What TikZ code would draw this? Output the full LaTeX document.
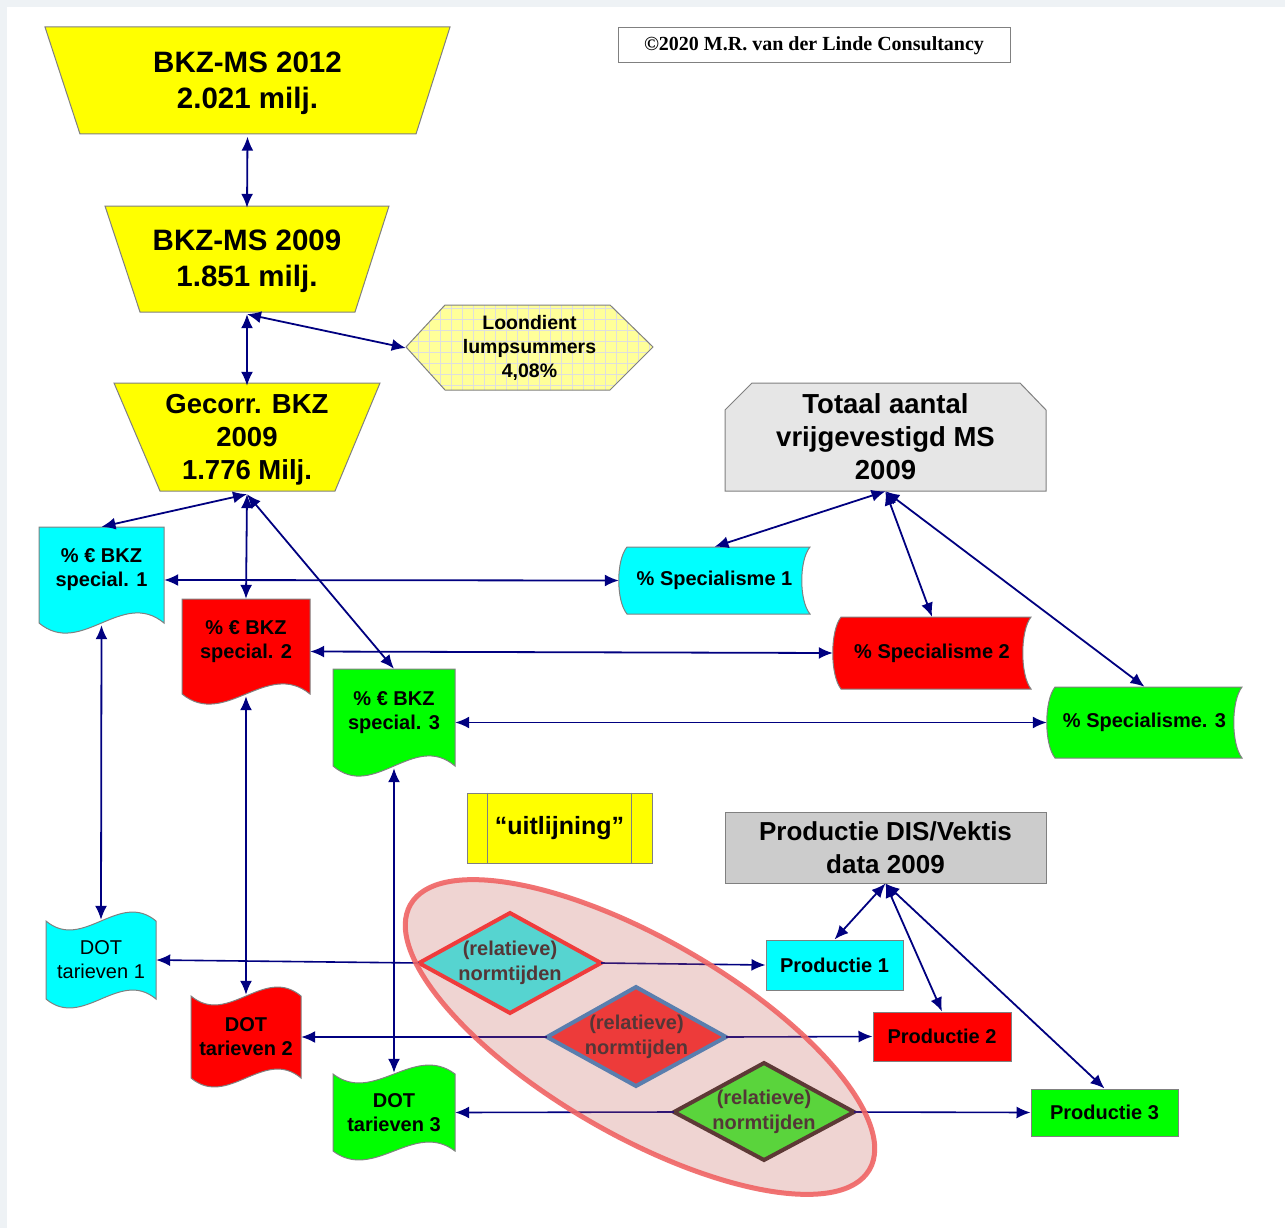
\documentclass[tikz,border=0pt]{standalone}
\usepackage{fontspec}
\setmainfont{Liberation Sans}
\newfontfamily\copyfont{Liberation Serif}
\usetikzlibrary{arrows.meta}

\definecolor{navy}{RGB}{0,0,128}
\definecolor{pagebg}{RGB}{238,242,245}
\definecolor{edgegray}{RGB}{128,128,128}
\definecolor{boxyellow}{RGB}{255,255,0}
\definecolor{boxcyan}{RGB}{0,255,255}
\definecolor{boxred}{RGB}{255,0,0}
\definecolor{boxgreen}{RGB}{0,255,0}
\definecolor{greyA}{RGB}{230,230,230}
\definecolor{greyB}{RGB}{204,204,204}
\definecolor{paleyellow}{RGB}{255,255,153}
\definecolor{gridgray}{RGB}{222,222,222}
\definecolor{relcyan}{RGB}{50,255,252}
\definecolor{relred}{RGB}{252,50,52}
\definecolor{relgreen}{RGB}{55,254,54}
\definecolor{edgered}{RGB}{255,51,54}
\definecolor{edgeblue}{RGB}{55,140,206}
\definecolor{edgebrown}{RGB}{60,48,46}
\definecolor{normtxt}{RGB}{48,44,47}
\definecolor{ovalfill}{RGB}{195,87,79}
\definecolor{ovaledge}{RGB}{240,100,100}

\begin{document}
\begin{tikzpicture}[x=1pt,y=-1pt]
    \tikzset{lbl/.style = {inner sep=0pt, align=center}}
    \tikzset{dims/.style 2 args = {minimum width=#1, minimum height=#2}}
    \tikzset{funnel/.style = {lbl, font=\bfseries\fontsize{29.5}{36}\selectfont}}
    \tikzset{head/.style = {lbl, font=\bfseries\fontsize{27.5}{33}\selectfont}}
    \tikzset{small/.style = {lbl, font=\bfseries\fontsize{20}{24}\selectfont}}
    \tikzset{plain/.style = {lbl, font=\fontsize{20}{24}\selectfont}}
    \tikzset{rel/.style = {lbl, text=normtxt, font=\bfseries\fontsize{20}{25}\selectfont}}
    \tikzset{outline/.style = {draw=edgegray, line width=1pt}}
    \tikzset{link/.style = {draw=navy, line width=1.8pt, {Latex[length=14pt,width=12pt]}-{Latex[length=14pt,width=12pt]}}}
    \tikzset{oneway/.style = {draw=navy, line width=1.6pt, -{Latex[length=14pt,width=12pt]}}}
    \useasboundingbox (0,0) rectangle (1285,1228);
    \fill[pagebg] (0,0) rectangle (1285,1228);
    \fill[white] (7,7) rectangle (1285,1228);

    % funnels
    \draw[outline, fill=boxyellow] (45,27) -- (450,27) -- (416,134) -- (80,134) -- cycle;
    \draw[outline, fill=boxyellow] (105,206) -- (389,206) -- (355,312) -- (140,312) -- cycle;
    \draw[outline, fill=boxyellow] (114,383) -- (380,383) -- (335,491) -- (160,491) -- cycle;

    % hexagon with grid
    \fill[paleyellow] (406,347) -- (445,305) -- (610,305) -- (653,347) -- (610,390) -- (445,390) -- cycle;
    \begin{scope}
        \clip (406,347) -- (445,305) -- (610,305) -- (653,347) -- (610,390) -- (445,390) -- cycle;
        \draw[gridgray, line width=1pt, step=11pt] (400,300) grid (660,395);
    \end{scope}
    \draw[outline] (406,347) -- (445,305) -- (610,305) -- (653,347) -- (610,390) -- (445,390) -- cycle;

    % totaal
    \draw[outline, fill=greyA] (725,491) -- (725,410) -- (752,383) -- (1020,383) -- (1046,410) -- (1046,491) -- cycle;

    % documents
    \draw[outline, fill=boxcyan] (39,527) -- (164,527) -- (164,623) .. controls (122,588) and (81,658) .. (39,623) -- cycle;
    \draw[outline, fill=boxred] (182,599) -- (310,599) -- (310,694) .. controls (267,659) and (225,729) .. (182,694) -- cycle;
    \draw[outline, fill=boxgreen] (333,669) -- (455,669) -- (455,766) .. controls (414,731) and (374,801) .. (333,766) -- cycle;

    % stored data
    \draw[outline, fill=boxcyan] (627,547) -- (810,547) .. controls (799,560) and (799,601) .. (810,614) -- (627,614) .. controls (616,601) and (616,560) .. (627,547) -- cycle;
    \draw[outline, fill=boxred] (841,617) -- (1031,617) .. controls (1020,631) and (1020,675) .. (1031,689) -- (841,689) .. controls (830,675) and (830,631) .. (841,617) -- cycle;
    \draw[outline, fill=boxgreen] (1055,687) -- (1242,687) .. controls (1231,701) and (1231,744) .. (1242,758) -- (1055,758) .. controls (1044,744) and (1044,701) .. (1055,687) -- cycle;

    % tapes
    \draw[outline, fill=boxcyan] (46,921) .. controls (83,952) and (119,890) .. (156,921) -- (156,999) .. controls (119,968) and (83,1030) .. (46,999) -- cycle;
    \draw[outline, fill=boxred] (191,996) .. controls (228,1027) and (264,965) .. (301,996) -- (301,1078) .. controls (264,1047) and (228,1109) .. (191,1078) -- cycle;
    \draw[outline, fill=boxgreen] (333,1074) .. controls (374,1105) and (414,1043) .. (455,1074) -- (455,1151) .. controls (414,1120) and (374,1182) .. (333,1151) -- cycle;

    % diamonds
    \draw[draw=edgered, line width=4pt, fill=relcyan] (419,963) -- (510,913) -- (601,963) -- (510,1013) -- cycle;
    \draw[draw=edgeblue, line width=4pt, fill=relred] (547,1037) -- (636,987) -- (726,1037) -- (636,1086) -- cycle;
    \draw[draw=edgebrown, line width=4pt, fill=relgreen] (674,1112) -- (764,1063) -- (854,1112) -- (764,1160) -- cycle;

    \node[outline, fill=white, dims={392pt}{35pt}, inner sep=0pt, font=\copyfont\bfseries\fontsize{20}{24}\selectfont] (copy) at (814,45.5) {©2020 M.R. van der Linde Consultancy};

    \node[funnel, dims={405pt}{107pt}] (bkz12) at (247.5,83) {BKZ-MS 2012\\2.021 milj.};
    \node[funnel, dims={284pt}{106pt}] (bkz09) at (247,261) {BKZ-MS 2009\\1.851 milj.};
    \node[head, dims={266pt}{108pt}] (gecorr) at (247,440) {Gecorr. BKZ\\2009\\1.776 Milj.};
    \node[lbl, dims={247pt}{85pt}, font=\bfseries\fontsize{19.5}{24}\selectfont] (loon) at (529.5,348) {Loondient\\lumpsummers\\4,08\%};
    \node[head, dims={321pt}{108pt}] (totaal) at (885.5,437) {Totaal aantal\\vrijgevestigd MS\\2009};

    \node[small, dims={125pt}{106pt}] (pct1) at (101.5,580) {\% € BKZ\\special. 1\\\mbox{}};
    \node[small, dims={128pt}{105pt}] (pct2) at (246,651.5) {\% € BKZ\\special. 2\\\mbox{}};
    \node[small, dims={122pt}{107pt}] (pct3) at (394,722.5) {\% € BKZ\\special. 3\\\mbox{}};

    \node[small, dims={191pt}{67pt}] (spec1) at (714.5,580.5) {\% Specialisme 1};
    \node[small, dims={198pt}{72pt}] (spec2) at (932,653) {\% Specialisme 2};
    \node[small, dims={195pt}{71pt}] (spec3) at (1144.5,722.5) {\% Specialisme. 3};

    \node[small, outline, fill=boxyellow, dims={185pt}{70pt}, font=\bfseries\fontsize{25}{30}\selectfont] (uitl) at (559.5,828) {“uitlijning”};
    \draw[outline] ([xshift=21pt]uitl.north west) -- ([xshift=21pt]uitl.south west);
    \draw[outline] ([xshift=-21pt]uitl.north east) -- ([xshift=-21pt]uitl.south east);

    \node[head, outline, fill=greyB, dims={321pt}{71pt}, font=\bfseries\fontsize{26}{33}\selectfont] (dis) at (885.5,847.5) {Productie DIS/Vektis\\data 2009};

    \node[plain, dims={110pt}{96pt}] (dot1) at (101,960) {DOT\\tarieven 1};
    \node[small, dims={110pt}{100pt}] (dot2) at (246,1037) {DOT\\tarieven 2};
    \node[small, dims={122pt}{95pt}] (dot3) at (394,1112.5) {DOT\\tarieven 3};

    \node[rel, dims={182pt}{100pt}] (norm1) at (510,963) {(relatieve)\\normtijden};
    \node[rel, dims={179pt}{99pt}] (norm2) at (636.5,1037) {(relatieve)\\normtijden};
    \node[rel, dims={180pt}{97pt}] (norm3) at (764,1112) {(relatieve)\\normtijden};

    \node[small, outline, fill=boxcyan, dims={137pt}{50pt}] (prod1) at (834.5,965) {Productie 1};
    \node[small, outline, fill=boxred, dims={138pt}{49pt}] (prod2) at (942,1036.5) {Productie 2};
    \node[small, outline, fill=boxgreen, dims={147pt}{47pt}] (prod3) at (1104.5,1112.5) {Productie 3};

    \draw[link] (bkz12.south) -- (bkz09.north);
    \draw[link] (bkz09.south) -- (gecorr.north);
    \draw[link] (bkz09.south) -- (loon.west);
    \foreach \i in {1,2,3} {
        \draw[link] (gecorr.south) -- (pct\i.north);
        \draw[link] (pct\i.east) -- (spec\i.west);
        \draw[link] (totaal.south) -- (spec\i.north);
        \draw[link] ([yshift=8pt]pct\i.south) -- ([yshift=-8pt]dot\i.north);
        \draw[oneway] (norm\i.west) -- (dot\i.east);
        \draw[oneway] (norm\i.east) -- (prod\i.west);
        \draw[link] (dis.south) -- (prod\i.north);
    }

    % overlay
    \draw[rotate around={-30:(640,1037)}, draw=ovaledge, line width=5pt, draw opacity=0.9, fill=ovalfill, fill opacity=0.25] (640,1037) ellipse [x radius=265, y radius=98];
\end{tikzpicture}
\end{document}
